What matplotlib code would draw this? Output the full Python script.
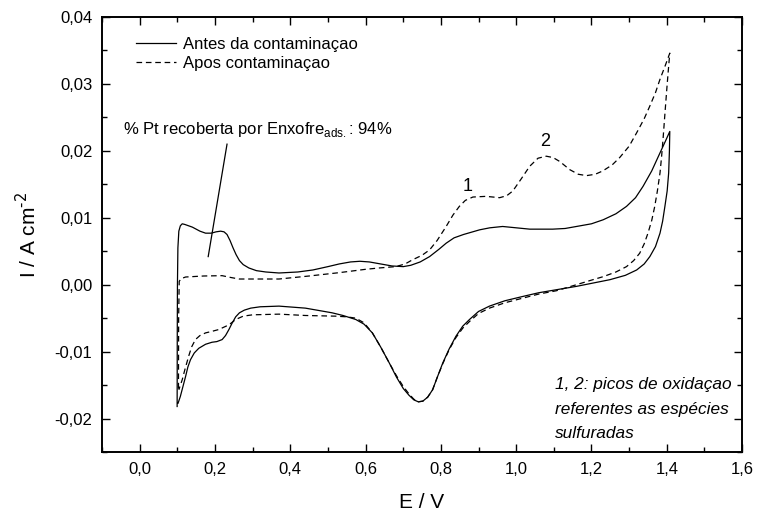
import matplotlib
matplotlib.use("Agg")
import matplotlib.pyplot as plt
from matplotlib.ticker import FuncFormatter, MultipleLocator

plt.rcParams["font.family"] = ["Liberation Sans", "DejaVu Sans"]

# Antes da contaminacao: anodic sweep then cathodic sweep
antes_e = [0.0995, 0.0998, 0.1003, 0.1015, 0.104, 0.108, 0.113, 0.12, 0.14, 0.16,
           0.175, 0.19, 0.203, 0.215, 0.224, 0.232, 0.240, 0.248, 0.256, 0.265,
           0.275, 0.29, 0.31, 0.335, 0.37, 0.42, 0.46, 0.50, 0.53, 0.56,
           0.585, 0.61, 0.64, 0.67, 0.70, 0.72, 0.745, 0.77, 0.795, 0.814,
           0.835, 0.86, 0.903, 0.93, 0.964, 1.0, 1.036, 1.097, 1.13, 1.16,
           1.2, 1.231, 1.265, 1.293, 1.317, 1.337, 1.36, 1.382, 1.396, 1.408,
           1.407, 1.405, 1.401, 1.395, 1.389, 1.382, 1.37, 1.355, 1.34, 1.32,
           1.29, 1.249, 1.2, 1.16, 1.107, 1.06, 1.018, 0.97, 0.929, 0.90,
           0.876, 0.858, 0.84, 0.822, 0.805, 0.79, 0.778, 0.765, 0.752, 0.74,
           0.728, 0.715, 0.70, 0.682, 0.663, 0.64, 0.618, 0.596, 0.574, 0.54,
           0.511, 0.44, 0.37, 0.32, 0.295, 0.278, 0.265, 0.255, 0.245, 0.237,
           0.228, 0.219, 0.205, 0.192, 0.175, 0.157, 0.145, 0.135, 0.128, 0.122,
           0.115, 0.108, 0.102]
antes_i = [-0.0182, -0.008, 0.0, 0.0055, 0.0080, 0.0088, 0.0091, 0.0090, 0.0086, 0.0080,
           0.0077, 0.0077, 0.0079, 0.0080, 0.0079, 0.0075, 0.0066, 0.0055, 0.0045, 0.0036,
           0.0030, 0.0025, 0.0021, 0.0019, 0.00175, 0.0019, 0.0022, 0.0027, 0.0031, 0.0034,
           0.0035, 0.0034, 0.0031, 0.0028, 0.0027, 0.0029, 0.0034, 0.0042, 0.0053, 0.0062,
           0.0070, 0.0075, 0.0082, 0.0085, 0.0087, 0.0085, 0.0083, 0.0083, 0.0084, 0.0087,
           0.0091, 0.0097, 0.0106, 0.0117, 0.0130, 0.0147, 0.0170, 0.0197, 0.0214, 0.0229,
           0.0200, 0.0167, 0.0140, 0.0117, 0.0095, 0.0077, 0.0057, 0.0042, 0.0031, 0.0022,
           0.0014, 0.00075, 0.0002, -0.00025, -0.00075, -0.0012, -0.00175, -0.0024, -0.0032, -0.0040,
           -0.0052, -0.0062, -0.0077, -0.0096, -0.0117, -0.0139, -0.0157, -0.0168, -0.0174, -0.0175,
           -0.0172, -0.0165, -0.0155, -0.0138, -0.0117, -0.0093, -0.0072, -0.0059, -0.0052, -0.0046,
           -0.0042, -0.0035, -0.0032, -0.0033, -0.0035, -0.0038, -0.0042, -0.0048, -0.0058, -0.0067,
           -0.0076, -0.0082, -0.0085, -0.0086, -0.0089, -0.0095, -0.0102, -0.0112, -0.0123, -0.0137,
           -0.0152, -0.0167, -0.0177]

# Apos contaminacao
apos_e = [0.103, 0.1035, 0.105, 0.11, 0.122, 0.17, 0.219, 0.24, 0.264, 0.37,
          0.45, 0.53, 0.60, 0.636, 0.68, 0.705, 0.724, 0.75, 0.77, 0.79,
          0.814, 0.832, 0.849, 0.865, 0.885, 0.92, 0.956, 0.975, 0.991, 1.012,
          1.036, 1.058, 1.08, 1.098, 1.116, 1.142, 1.165, 1.187, 1.21, 1.23,
          1.255, 1.275, 1.30, 1.32, 1.34, 1.355, 1.37, 1.382, 1.395, 1.408,
          1.404, 1.40, 1.395, 1.39, 1.386, 1.382, 1.375, 1.368, 1.36, 1.35,
          1.34, 1.328, 1.312, 1.293, 1.265, 1.231, 1.195, 1.16, 1.107, 1.06,
          1.018, 0.97, 0.929, 0.90, 0.876, 0.858, 0.84, 0.822, 0.805, 0.79,
          0.778, 0.765, 0.752, 0.74, 0.728, 0.715, 0.70, 0.682, 0.663, 0.64,
          0.618, 0.596, 0.574, 0.55, 0.52, 0.44, 0.37, 0.30, 0.275, 0.255,
          0.237, 0.21, 0.19, 0.175, 0.16, 0.148, 0.138, 0.13, 0.12, 0.113,
          0.104]
apos_i = [-0.0155, -0.005, 0.0005, 0.0009, 0.00115, 0.0013, 0.00135, 0.0011, 0.00085, 0.00085,
          0.0013, 0.0018, 0.0023, 0.0025, 0.0027, 0.0031, 0.0037, 0.0044, 0.0052, 0.0066,
          0.0087, 0.0104, 0.0117, 0.0126, 0.0131, 0.0132, 0.0130, 0.0133, 0.0140, 0.0157,
          0.0177, 0.0189, 0.0192, 0.0190, 0.0184, 0.0172, 0.0165, 0.0163, 0.0165, 0.0170,
          0.0179, 0.0190, 0.0207, 0.0227, 0.0248, 0.0267, 0.0287, 0.0307, 0.0326, 0.0346,
          0.0320, 0.0292, 0.0255, 0.0217, 0.0190, 0.0167, 0.0140, 0.0117, 0.0096, 0.0077,
          0.0061, 0.0047, 0.0036, 0.0027, 0.0019, 0.0012, 0.0006, 0.0, -0.0009, -0.0014,
          -0.0020, -0.0027, -0.0035, -0.0043, -0.0055, -0.0065, -0.0079, -0.0097, -0.0118, -0.0139,
          -0.0157, -0.0168, -0.0174, -0.0175, -0.0171, -0.0163, -0.0152, -0.0136, -0.0117, -0.0093,
          -0.0072, -0.0057, -0.0050, -0.0048, -0.0047, -0.0046, -0.0044, -0.0045, -0.0047, -0.0052,
          -0.0060, -0.0067, -0.0070, -0.0072, -0.0076, -0.0082, -0.0093, -0.0107, -0.0127, -0.0142,
          -0.0157]

series_labels = ["Antes da contaminaçao", "Apos contaminaçao"]


def comma(v, pos):
    return "{:.2f}".format(v).replace(".", ",")


def comma1(v, pos):
    return "{:.1f}".format(v).replace(".", ",")


fig = plt.figure(figsize=(7.58, 5.15), dpi=100)
ax = fig.add_axes([0.1346, 0.1223, 0.8444, 0.8447])

ax.plot(antes_e, antes_i, color="black", linewidth=0.9, label=series_labels[0])
ax.plot(apos_e, apos_i, color="black", linewidth=0.9, linestyle=(0, (4.5, 3)),
        label=series_labels[1])

ax.set_xlim(-0.1, 1.6)
ax.set_ylim(-0.025, 0.04)
ax.xaxis.set_major_locator(MultipleLocator(0.2))
ax.xaxis.set_minor_locator(MultipleLocator(0.1))
ax.yaxis.set_major_locator(MultipleLocator(0.01))
ax.yaxis.set_minor_locator(MultipleLocator(0.005))
ax.xaxis.set_major_formatter(FuncFormatter(comma1))
ax.yaxis.set_major_formatter(FuncFormatter(comma))
ax.tick_params(which="both", direction="in", top=True, right=True, width=1.0)
ax.tick_params(which="major", length=6, labelsize=12, pad=7)
ax.tick_params(which="minor", length=3.5)
for sp in ax.spines.values():
    sp.set_linewidth(1.4)

ax.set_xlabel("E / V", fontsize=15, labelpad=12)
ax.set_ylabel("I / A cm$^{\\mathregular{\\text{-2}}}$", fontsize=15, labelpad=10)

ax.legend(loc="upper left", bbox_to_anchor=(0.053, 0.955), frameon=False,
          fontsize=12, handlelength=2.4, handletextpad=0.4, borderpad=0,
          borderaxespad=0, labelspacing=0.25)

ax.plot([0.232, 0.182], [0.0210, 0.0042], color="black", linewidth=0.9)
ax.text(-0.043, 0.0232, "% Pt recoberta por Enxofre$_{\\mathregular{ads.}}$: 94%",
        fontsize=12, va="center", ha="left")
ax.text(0.871, 0.0147, "1", fontsize=13, ha="center", va="center")
ax.text(1.076, 0.0214, "2", fontsize=13, ha="center", va="center")
ax.text(1.102, -0.0186, "1, 2: picos de oxidaçao\nreferentes as espécies\nsulfuradas",
        fontsize=12.4, style="italic", ha="left", va="center", linespacing=1.77)

fig.savefig("out.png", dpi=100)
